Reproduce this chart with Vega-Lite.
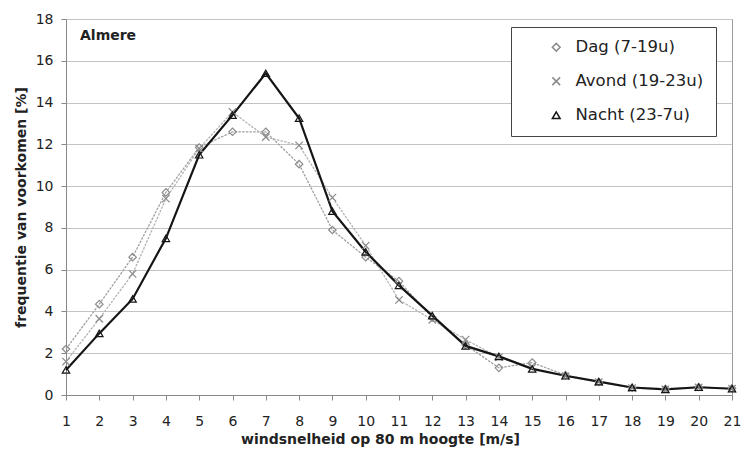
{
  "$schema": "https://vega.github.io/schema/vega-lite/v6.json",
  "width": 666,
  "height": 376,
  "autosize": {"type": "none"},
  "padding": {"left": 66, "top": 19, "right": 11, "bottom": 58},
  "background": "white",
  "config": {
    "font": "DejaVu Sans",
    "view": {"stroke": "#9a9a9a", "strokeWidth": 1},
    "axis": {"labelFont": "DejaVu Sans", "titleFont": "DejaVu Sans", "labelColor": "#222", "titleColor": "#222"}
  },
  "title": {"text": "Almere", "anchor": "start", "orient": "top", "dx": 14, "offset": -31, "fontSize": 14, "fontWeight": "bold", "font": "DejaVu Sans", "color": "#222", "frame": "group"},
  "data": {
    "values": [
      {"v": 1, "p": "Dag (7-19u)", "f": 2.2}, {"v": 2, "p": "Dag (7-19u)", "f": 4.35}, {"v": 3, "p": "Dag (7-19u)", "f": 6.6}, {"v": 4, "p": "Dag (7-19u)", "f": 9.7}, {"v": 5, "p": "Dag (7-19u)", "f": 11.85}, {"v": 6, "p": "Dag (7-19u)", "f": 12.6}, {"v": 7, "p": "Dag (7-19u)", "f": 12.6}, {"v": 8, "p": "Dag (7-19u)", "f": 11.05}, {"v": 9, "p": "Dag (7-19u)", "f": 7.9}, {"v": 10, "p": "Dag (7-19u)", "f": 6.6}, {"v": 11, "p": "Dag (7-19u)", "f": 5.45}, {"v": 12, "p": "Dag (7-19u)", "f": 3.7}, {"v": 13, "p": "Dag (7-19u)", "f": 2.4}, {"v": 14, "p": "Dag (7-19u)", "f": 1.3}, {"v": 15, "p": "Dag (7-19u)", "f": 1.55}, {"v": 16, "p": "Dag (7-19u)", "f": 0.95}, {"v": 17, "p": "Dag (7-19u)", "f": 0.62}, {"v": 18, "p": "Dag (7-19u)", "f": 0.35}, {"v": 19, "p": "Dag (7-19u)", "f": 0.3}, {"v": 20, "p": "Dag (7-19u)", "f": 0.38}, {"v": 21, "p": "Dag (7-19u)", "f": 0.32},
      {"v": 1, "p": "Avond (19-23u)", "f": 1.6}, {"v": 2, "p": "Avond (19-23u)", "f": 3.65}, {"v": 3, "p": "Avond (19-23u)", "f": 5.8}, {"v": 4, "p": "Avond (19-23u)", "f": 9.4}, {"v": 5, "p": "Avond (19-23u)", "f": 11.8}, {"v": 6, "p": "Avond (19-23u)", "f": 13.55}, {"v": 7, "p": "Avond (19-23u)", "f": 12.35}, {"v": 8, "p": "Avond (19-23u)", "f": 11.95}, {"v": 9, "p": "Avond (19-23u)", "f": 9.45}, {"v": 10, "p": "Avond (19-23u)", "f": 7.15}, {"v": 11, "p": "Avond (19-23u)", "f": 4.55}, {"v": 12, "p": "Avond (19-23u)", "f": 3.6}, {"v": 13, "p": "Avond (19-23u)", "f": 2.65}, {"v": 14, "p": "Avond (19-23u)", "f": 1.8}, {"v": 15, "p": "Avond (19-23u)", "f": 1.3}, {"v": 16, "p": "Avond (19-23u)", "f": 0.9}, {"v": 17, "p": "Avond (19-23u)", "f": 0.62}, {"v": 18, "p": "Avond (19-23u)", "f": 0.33}, {"v": 19, "p": "Avond (19-23u)", "f": 0.27}, {"v": 20, "p": "Avond (19-23u)", "f": 0.36}, {"v": 21, "p": "Avond (19-23u)", "f": 0.3},
      {"v": 1, "p": "Nacht (23-7u)", "f": 1.2}, {"v": 2, "p": "Nacht (23-7u)", "f": 2.95}, {"v": 3, "p": "Nacht (23-7u)", "f": 4.6}, {"v": 4, "p": "Nacht (23-7u)", "f": 7.5}, {"v": 5, "p": "Nacht (23-7u)", "f": 11.5}, {"v": 6, "p": "Nacht (23-7u)", "f": 13.4}, {"v": 7, "p": "Nacht (23-7u)", "f": 15.4}, {"v": 8, "p": "Nacht (23-7u)", "f": 13.25}, {"v": 9, "p": "Nacht (23-7u)", "f": 8.8}, {"v": 10, "p": "Nacht (23-7u)", "f": 6.85}, {"v": 11, "p": "Nacht (23-7u)", "f": 5.25}, {"v": 12, "p": "Nacht (23-7u)", "f": 3.8}, {"v": 13, "p": "Nacht (23-7u)", "f": 2.35}, {"v": 14, "p": "Nacht (23-7u)", "f": 1.85}, {"v": 15, "p": "Nacht (23-7u)", "f": 1.25}, {"v": 16, "p": "Nacht (23-7u)", "f": 0.92}, {"v": 17, "p": "Nacht (23-7u)", "f": 0.64}, {"v": 18, "p": "Nacht (23-7u)", "f": 0.36}, {"v": 19, "p": "Nacht (23-7u)", "f": 0.27}, {"v": 20, "p": "Nacht (23-7u)", "f": 0.37}, {"v": 21, "p": "Nacht (23-7u)", "f": 0.3}
    ]
  },
  "encoding": {
    "x": {
      "field": "v", "type": "quantitative",
      "scale": {"domain": [1, 21], "nice": false, "zero": false},
      "axis": {
        "title": "windsnelheid op 80 m hoogte [m/s]",
        "values": [1,2,3,4,5,6,7,8,9,10,11,12,13,14,15,16,17,18,19,20,21],
        "grid": false, "tickSize": 5, "tickColor": "#888", "domainColor": "#888",
        "labelFontSize": 14, "labelPadding": 14, "labelFlush": false,
        "titleFontSize": 14, "titleFontWeight": "bold", "titlePadding": 4,
        "titleX": 314
      }
    },
    "y": {
      "field": "f", "type": "quantitative",
      "scale": {"domain": [0, 18], "nice": false},
      "axis": {
        "title": "frequentie van voorkomen [%]",
        "values": [0,2,4,6,8,10,12,14,16,18],
        "grid": true, "gridColor": "#c4c4c4", "gridWidth": 1,
        "tickSize": 5, "tickColor": "#888", "domainColor": "#888",
        "labelFontSize": 14, "labelPadding": 8,
        "titleFontSize": 14, "titleFontWeight": "bold", "titlePadding": 7
      }
    }
  },
  "layer": [
    {
      "transform": [{"filter": "datum.p == 'Dag (7-19u)'"}],
      "mark": {"type": "line", "stroke": "#a0a0a0", "strokeWidth": 1.3, "strokeDash": [2.5, 1.2]}
    },
    {
      "transform": [{"filter": "datum.p == 'Avond (19-23u)'"}],
      "mark": {"type": "line", "stroke": "#b4b4b4", "strokeWidth": 1.3, "strokeDash": [2.5, 1.2]}
    },
    {
      "transform": [{"filter": "datum.p == 'Nacht (23-7u)'"}],
      "mark": {"type": "line", "stroke": "#151515", "strokeWidth": 2.2}
    },
    {
      "mark": {"type": "point", "filled": false, "size": 55, "strokeWidth": 1.2, "opacity": 1},
      "encoding": {
        "shape": {"field": "p", "type": "nominal", "sort": ["Dag (7-19u)", "Avond (19-23u)", "Nacht (23-7u)"], "scale": {"domain": ["Dag (7-19u)", "Avond (19-23u)", "Nacht (23-7u)"], "range": ["diamond", "M-1,-1L1,1M1,-1L-1,1", "triangle-up"]},
          "legend": {
            "title": null, "orient": "none", "legendX": 445, "legendY": 8,
            "strokeColor": "#444", "fillColor": "white", "padding": 12,
            "labelFontSize": 16.5, "labelFont": "DejaVu Sans", "labelColor": "#222",
            "symbolSize": 60, "rowPadding": 17, "labelOffset": 11, "symbolOffset": 25,
            "offset": 0
          }
        },
        "stroke": {"field": "p", "type": "nominal", "sort": ["Dag (7-19u)", "Avond (19-23u)", "Nacht (23-7u)"], "scale": {"domain": ["Dag (7-19u)", "Avond (19-23u)", "Nacht (23-7u)"], "range": ["#8a8a8a", "#8a8a8a", "#151515"]},
          "legend": {
            "title": null, "orient": "none", "legendX": 445, "legendY": 8,
            "strokeColor": "#444", "fillColor": "white", "padding": 12,
            "labelFontSize": 16.5, "labelFont": "DejaVu Sans", "labelColor": "#222",
            "symbolSize": 60, "rowPadding": 17, "labelOffset": 11, "symbolOffset": 25,
            "offset": 0
          }
        }
      }
    }
  ]
}
